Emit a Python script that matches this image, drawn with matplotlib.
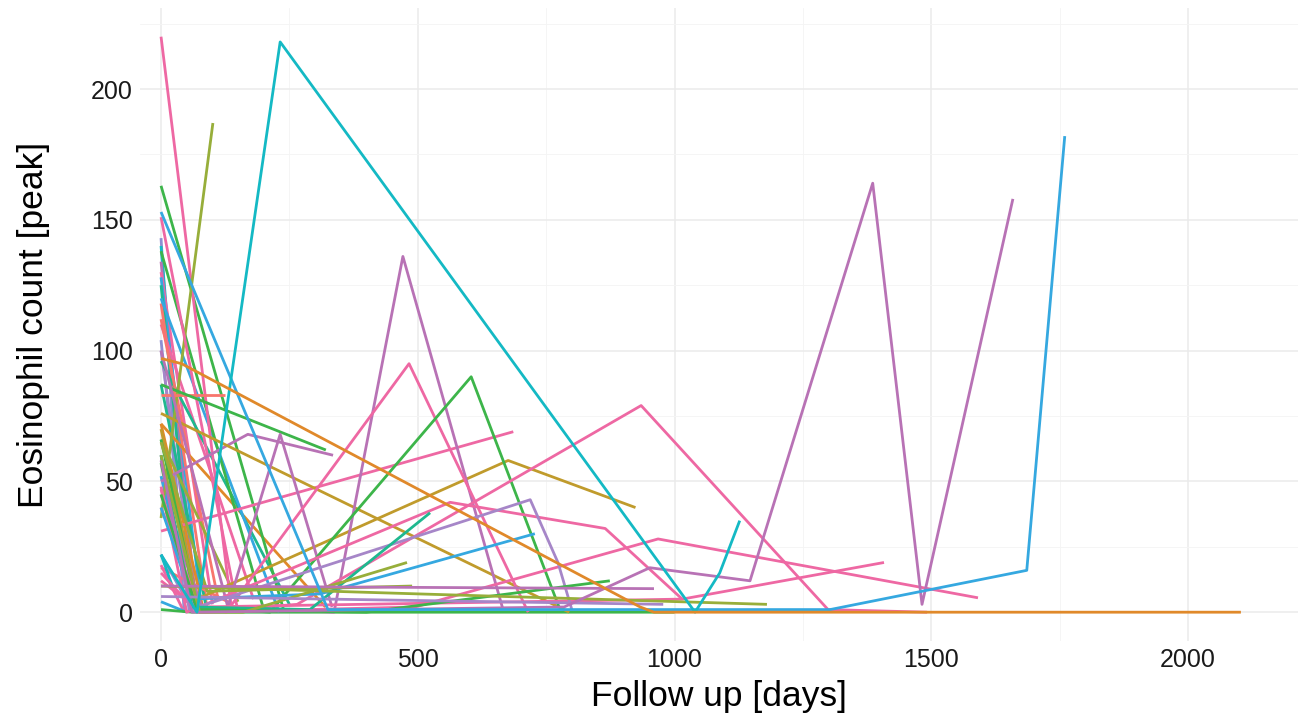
import matplotlib.pyplot as plt
import numpy as np

plt.rcParams["font.family"] = ["Liberation Sans", "DejaVu Sans"]

# colour of each patient's line (ggplot-like hue palette)
palette = {
    "salmon": "#F8766D",
    "orange": "#E0892A",
    "gold": "#C09B2C",
    "olive": "#97AE3A",
    "green": "#3DB54A",
    "teal": "#1FB88F",
    "cyan": "#14B9C4",
    "blue": "#35A8E0",
    "slate": "#8D8FD2",
    "lavender": "#A686C8",
    "mauve": "#B872B5",
    "pink": "#EE68A3",
}

# follow up days per patient
days = [
    [0, 45], [0, 60], [0, 70], [0, 100], [0, 80], [0, 65], [0, 90], [0, 55],
    [0, 70], [0, 80], [0, 60], [0, 90], [0, 140], [0, 45], [0, 50], [0, 60],
    [0, 60], [0, 22], [0, 60, 1000],
    [0, 320], [0, 180], [0, 250], [0, 230], [0, 200], [0, 110], [0, 150],
    [0, 240], [0, 138], [0, 101], [0, 150], [0, 125], [0, 321],
    [0, 686], [0, 169, 335], [0, 795], [0, 70, 676, 924],
    [0, 130, 232, 333], [0, 80, 337, 471, 666], [0, 60, 127, 483, 715],
    [0, 70, 212, 604, 775], [0, 70, 265, 935, 1299, 1492],
    [0, 50, 563, 865, 1015], [0, 80, 495, 968, 1591], [0, 75, 1015, 1408],
    [0, 60, 310, 728], [0, 56, 719, 773, 800], [0, 60, 290, 524],
    [0, 70, 400, 874], [0, 75, 160, 479], [0, 90, 489], [0, 500, 1180],
    [0, 960], [0, 978],
    [0, 60, 785, 952, 1147, 1386, 1482, 1659],
    [0, 325, 1303, 1686, 1760],
    [0, 70, 232, 1040, 1088, 1127],
    [0, 40, 933, 960, 2103],
]

# peak eosinophil count per visit
counts = [
    [143, 0], [140, 1], [134, 0], [130, 3], [128, 0], [125, 2], [118, 1], [104, 0],
    [100, 1], [72, 3], [57, 0], [87, 0], [17, 3], [18, 0], [4, 0], [22, 1],
    [52, 1], [22, 10], [1, 0, 0],
    [72, 2], [110, 5], [96, 3], [120, 0], [138, 1], [112, 6], [66, 4],
    [163, 0], [220, 0], [36, 187], [151, 0], [83, 83], [87, 62],
    [31, 69], [50, 68, 60], [76, 0], [70, 5, 58, 40],
    [100, 2, 68, 2], [45, 2, 0, 136, 1], [47, 3, 0, 95, 0],
    [66, 2, 0, 90, 2], [15, 0, 3, 79, 1, 0],
    [48, 0, 42, 32, 5], [12, 0, 2, 28, 5.5], [40, 2, 5, 19],
    [40, 5, 7, 30], [60, 1, 43, 19, 1], [60, 2, 1, 38],
    [45, 1, 0, 12], [60, 0, 0, 19], [65, 8, 10], [10, 7, 3],
    [10, 9], [6, 3],
    [58, 0, 2, 17, 12, 164, 3, 158],
    [153, 1, 1, 16, 182],
    [22, 0, 218, 0, 15, 35],
    [97, 95, 2, 0, 0],
]

hues = [
    "slate", "cyan", "mauve", "pink", "blue", "teal", "salmon", "slate",
    "lavender", "orange", "green", "teal", "salmon", "pink", "blue", "slate",
    "blue", "cyan", "green",
    "orange", "pink", "teal", "blue", "green", "salmon", "olive",
    "green", "pink", "olive", "pink", "salmon", "green",
    "pink", "mauve", "gold", "gold",
    "mauve", "mauve", "pink",
    "green", "pink",
    "pink", "pink", "pink",
    "blue", "lavender", "teal",
    "green", "olive", "olive", "olive",
    "mauve", "lavender",
    "mauve",
    "blue",
    "cyan",
    "orange",
]

fig = plt.figure(figsize=(13.01, 7.21), dpi=100)
ax = fig.add_axes([0.1076, 0.111, 0.890, 0.878])

for d, c, h in zip(days, counts, hues):
    ax.plot(d, c, color=palette[h], linewidth=2.0, solid_capstyle="butt")

ax.set_xlim(-41, 2214)
ax.set_ylim(-11, 231)
ax.set_xticks([0, 500, 1000, 1500, 2000])
ax.set_yticks([0, 50, 100, 150, 200])
ax.set_xticks(np.arange(250, 2250, 500), minor=True)
ax.set_yticks(np.arange(25, 250, 50), minor=True)
ax.grid(which="major", color="#EBEBEB", linewidth=1.1)
ax.grid(which="minor", color="#F4F4F4", linewidth=0.6)
ax.set_axisbelow(True)
for s in ax.spines.values():
    s.set_visible(False)
ax.tick_params(which="both", length=0, labelsize=18, colors="#1A1A1A", pad=5)
ax.set_xlabel("Follow up [days]", fontsize=25.5, labelpad=6)
ax.set_ylabel("Eosinophil count [peak]", fontsize=25.5, labelpad=30)

fig.savefig("out.png", dpi=100)
